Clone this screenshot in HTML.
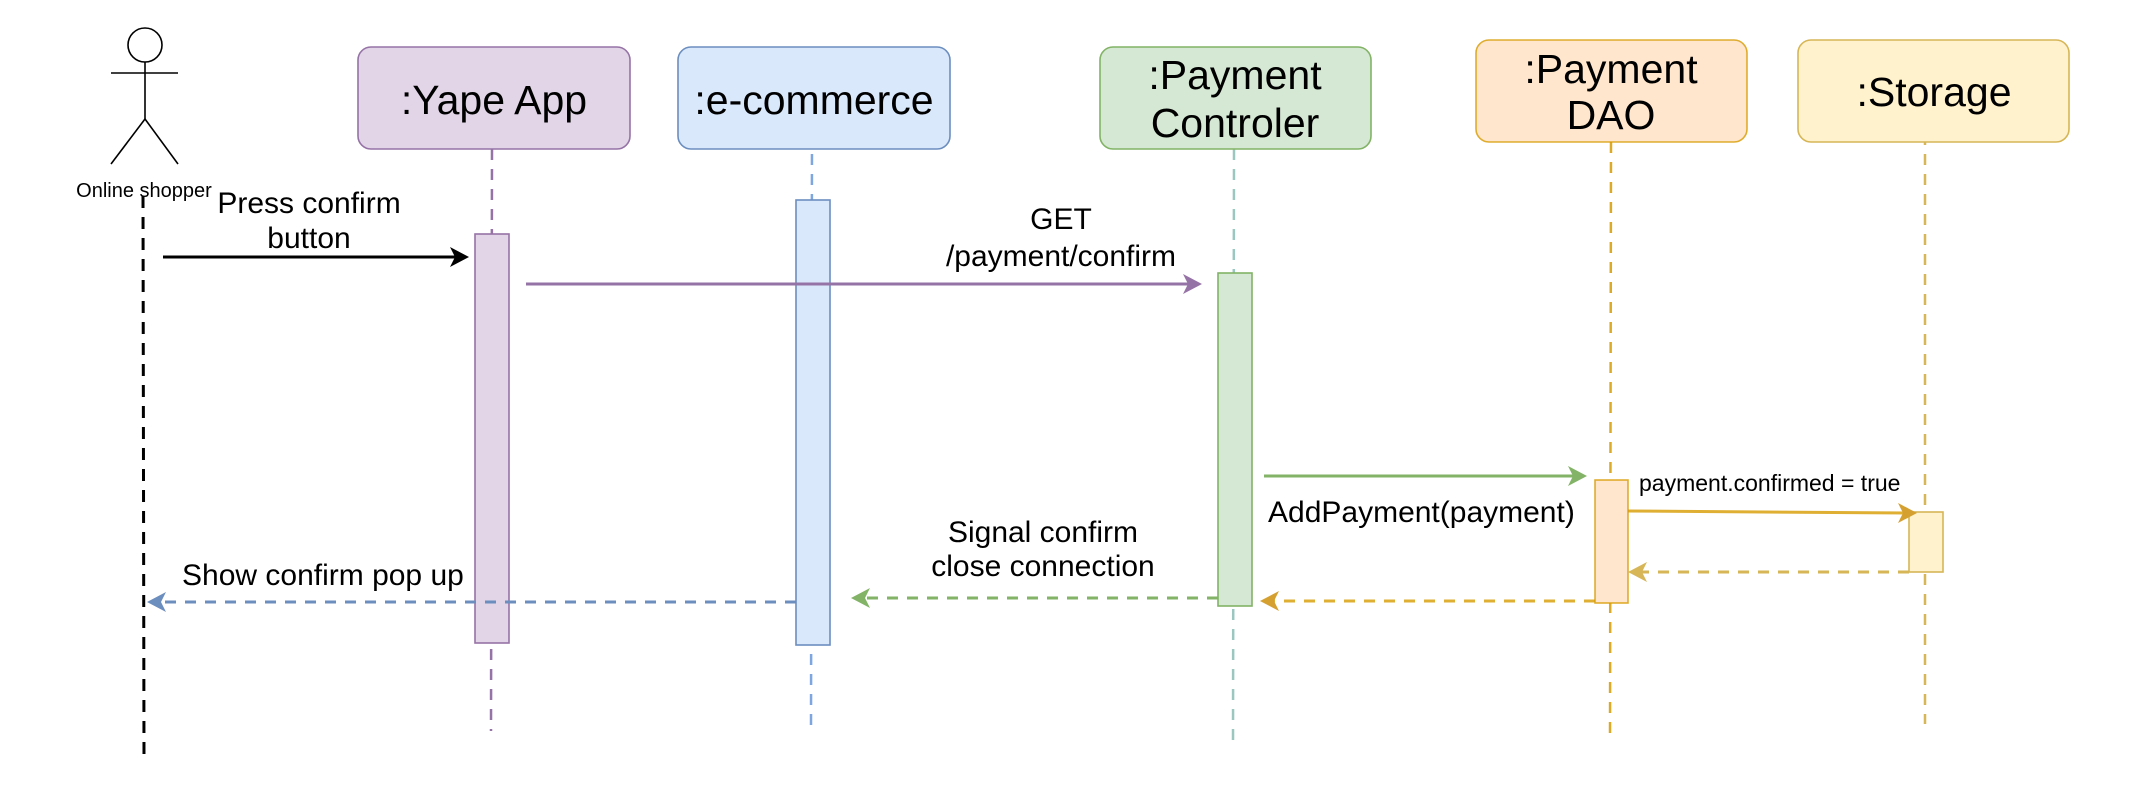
<!DOCTYPE html>
<html><head><meta charset="utf-8"><style>
html,body{margin:0;padding:0;background:#fff;}
svg{display:block;}
text{font-family:"Liberation Sans",Arial,sans-serif;fill:#000;}
</style></head><body>
<svg width="2152" height="810" viewBox="0 0 2152 810" xmlns="http://www.w3.org/2000/svg">
<!-- actor -->
<g stroke="#000" stroke-width="1.6" fill="none">
<circle cx="145" cy="45" r="17" fill="#fff"/>
<line x1="145" y1="62" x2="145" y2="119"/>
<line x1="111" y1="73" x2="178" y2="73"/>
<line x1="145" y1="119" x2="111" y2="164"/>
<line x1="145" y1="119" x2="178" y2="164"/>
</g>
<line x1="143" y1="196" x2="144" y2="759" stroke="#000" stroke-width="3" stroke-dasharray="12,9"/>
<text x="144" y="197" font-size="20" text-anchor="middle">Online shopper</text>

<!-- lifelines -->
<line x1="492" y1="149" x2="491" y2="731" stroke="#9673a6" stroke-width="2.5" stroke-dasharray="11,9"/>
<line x1="812" y1="134" x2="811" y2="729" stroke="#7ea6e0" stroke-width="2.5" stroke-dasharray="11,9"/>
<line x1="1234" y1="149" x2="1233" y2="743" stroke="#9ac7bf" stroke-width="2.5" stroke-dasharray="11,9"/>
<line x1="1611" y1="142" x2="1610" y2="737" stroke="#d79b00" stroke-opacity="0.85" stroke-width="2.5" stroke-dasharray="11,9"/>
<line x1="1925" y1="134" x2="1925" y2="724" stroke="#d6b656" stroke-width="2.5" stroke-dasharray="11,9"/>

<!-- boxes -->
<rect x="358" y="47" width="272" height="102" rx="13" fill="#e1d5e7" stroke="#9673a6" stroke-width="1.6"/>
<text x="494" y="114" font-size="41" text-anchor="middle">:Yape App</text>
<rect x="678" y="47" width="272" height="102" rx="13" fill="#dae8fc" stroke="#6c8ebf" stroke-width="1.6"/>
<text x="814" y="114" font-size="41" text-anchor="middle">:e-commerce</text>
<rect x="1100" y="47" width="271" height="102" rx="13" fill="#d5e8d4" stroke="#82b366" stroke-width="1.6"/>
<text x="1235" y="89" font-size="41" text-anchor="middle">:Payment</text>
<text x="1235" y="137" font-size="41" text-anchor="middle">Controler</text>
<rect x="1476" y="40" width="271" height="102" rx="13" fill="#ffe6cc" stroke="#d79b00" stroke-opacity="0.8" stroke-width="1.6"/>
<text x="1611" y="83" font-size="41" text-anchor="middle">:Payment</text>
<text x="1611" y="129" font-size="41" text-anchor="middle">DAO</text>
<rect x="1798" y="40" width="271" height="102" rx="13" fill="#fff2cc" stroke="#d6b656" stroke-width="1.6"/>
<text x="1934" y="106" font-size="41" text-anchor="middle">:Storage</text>

<!-- activations -->
<rect x="475" y="234" width="34" height="409" fill="#e1d5e7" stroke="#9673a6" stroke-width="1.6"/>
<rect x="796" y="200" width="34" height="445" fill="#dae8fc" stroke="#6c8ebf" stroke-width="1.6"/>
<rect x="1218" y="273" width="34" height="333" fill="#d5e8d4" stroke="#82b366" stroke-width="1.6"/>
<rect x="1595" y="480" width="33" height="123" fill="#ffe6cc" stroke="#d79b00" stroke-opacity="0.8" stroke-width="1.6"/>
<rect x="1909" y="512" width="34" height="60" fill="#fff2cc" stroke="#d6b656" stroke-width="1.6"/>

<!-- messages -->
<line x1="163" y1="257" x2="462" y2="257" stroke="#000" stroke-width="3"/>
<path d="M469,257 L450,247 L455,257 L450,267 z" fill="#000"/>
<text x="309" y="213" font-size="30" text-anchor="middle">Press confirm</text>
<text x="309" y="248" font-size="30" text-anchor="middle">button</text>

<line x1="526" y1="284" x2="1195" y2="284" stroke="#9673a6" stroke-width="3"/>
<path d="M1202,284 L1183,274 L1188,284 L1183,294 z" fill="#9673a6"/>
<text x="1061" y="229" font-size="30" text-anchor="middle">GET</text>
<text x="1061" y="266" font-size="30" text-anchor="middle">/payment/confirm</text>

<line x1="1264" y1="476" x2="1580" y2="476" stroke="#82b366" stroke-width="3"/>
<path d="M1587,476 L1568,466 L1573,476 L1568,486 z" fill="#82b366"/>
<text x="1268" y="522" font-size="30">AddPayment(payment)</text>

<line x1="1628" y1="511" x2="1910" y2="513" stroke="#d79b00" stroke-opacity="0.8" stroke-width="3"/>
<path d="M1917,513 L1898,503 L1903,513 L1898,523 z" fill="#d6a030"/>
<text x="1639" y="491" font-size="23">payment.confirmed = true</text>

<line x1="1909" y1="572" x2="1636" y2="572" stroke="#d6b656" stroke-width="3" stroke-dasharray="11,9"/>
<path d="M1628,572 L1647,562 L1642,572 L1647,582 z" fill="#d6b656"/>

<line x1="1595" y1="601" x2="1268" y2="601" stroke="#d79b00" stroke-opacity="0.8" stroke-width="3" stroke-dasharray="11,9"/>
<path d="M1260,601 L1279,591 L1274,601 L1279,611 z" fill="#d6a030"/>

<line x1="1218" y1="598" x2="859" y2="598" stroke="#82b366" stroke-width="3" stroke-dasharray="11,9"/>
<path d="M851,598 L870,588 L865,598 L870,608 z" fill="#82b366"/>
<text x="1043" y="542" font-size="30" text-anchor="middle">Signal confirm</text>
<text x="1043" y="576" font-size="30" text-anchor="middle">close connection</text>

<line x1="796" y1="602" x2="155" y2="602" stroke="#6c8ebf" stroke-width="3" stroke-dasharray="11,9"/>
<path d="M147,602 L166,592 L161,602 L166,612 z" fill="#6c8ebf"/>
<text x="182" y="585" font-size="30">Show confirm pop up</text>
</svg>
</body></html>
